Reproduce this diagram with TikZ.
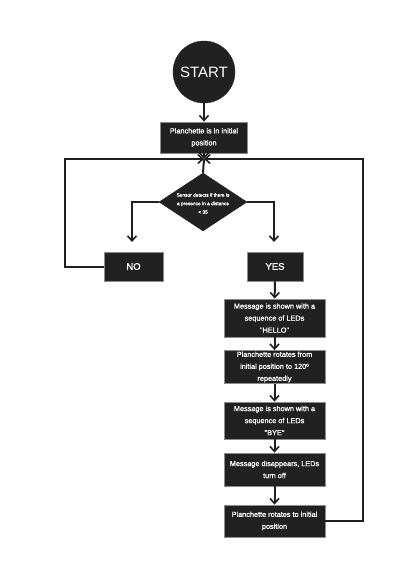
\documentclass[tikz,border=0pt]{standalone}
\usepackage{fontspec}
\setmainfont{Liberation Sans}
\newfontfamily\heavyfont[FakeBold=1.2]{Liberation Sans}
\usetikzlibrary{arrows.meta,shapes.geometric}
\begin{document}
\begin{tikzpicture}[x=1pt,y=-1pt,
  box/.style={draw=black!45,line width=0.8pt,fill=black!87,text=white,inner sep=0pt,align=center,font=\heavyfont\fontsize{7.3}{12}\selectfont},
  flow/.style={draw=black!88,line width=2pt,-{Straight Barb[length=5pt,width=9pt,line width=1.6pt]}},
  plain/.style={draw=black!88,line width=2pt}
]
\useasboundingbox (0,0) rectangle (400,570);
\node[circle,fill=black!87,draw=black!87,minimum size=62pt,inner sep=0pt,text=white,font=\fontsize{15}{18}\selectfont] (start) at (204,72) {START};
\node[box,minimum width=87pt,minimum height=31pt] (p1) at (204,137.5) {Planchette is in initial\\position};
\coordinate (j) at (204,159);
\node[diamond,fill=black!87,draw=black!87,minimum width=88pt,minimum height=58pt,inner sep=0pt,aspect=1.5] (d) at (203,202) {};
\node[text=white,align=center,font=\heavyfont\fontsize{4.8}{8.5}\selectfont] (dtext) at (203,203.5) {Sensor detects if there is\\a presence in a distance\\< 35};
\node[box,minimum width=59pt,minimum height=29pt,font=\heavyfont\fontsize{9.5}{12}\selectfont] (no) at (133.5,266.5) {NO};
\node[box,minimum width=56pt,minimum height=29pt,font=\heavyfont\fontsize{9.5}{12}\selectfont] (yes) at (275,266.5) {YES};
\node[box,minimum width=101pt,minimum height=38pt] (b1) at (274.5,318) {Message is shown with a\\sequence of LEDs\\"HELLO"};
\node[box,minimum width=101pt,minimum height=33pt] (b2) at (274.5,367) {Planchette rotates from\\initial position to 120º\\repeatedly};
\node[box,minimum width=101pt,minimum height=37pt] (b3) at (274.5,420.5) {Message is shown with a\\sequence of LEDs\\"BYE"};
\node[box,minimum width=101pt,minimum height=33pt] (b4) at (274.5,469.5) {Message disappears, LEDs\\turn off};
\node[box,minimum width=101pt,minimum height=32pt] (b5) at (274.5,521) {Planchette rotates to initial\\position};
\coordinate (nta) at (132,242);
\coordinate (ytb) at (274,242);
\coordinate (nl) at (65,159);
\coordinate (nr) at (363,159);
\draw[flow] (start) -- (p1);
\draw[flow] (p1) -- (j);
\draw[plain] (j) -- (d.north);
\draw[flow] (d.west) -| (nta);
\draw[flow] (d.east) -| (ytb);
\draw[flow] (no.west) -| (nl) -- (j);
\draw[flow] (b5.east) -| (nr) -- (j);
\draw[flow] (yes) -- (b1);
\draw[flow] (b1) -- (b2);
\draw[flow] (b2) -- (b3);
\draw[flow] (b3) -- (b4);
\draw[flow] (b4) -- (b5);
\end{tikzpicture}
\end{document}
